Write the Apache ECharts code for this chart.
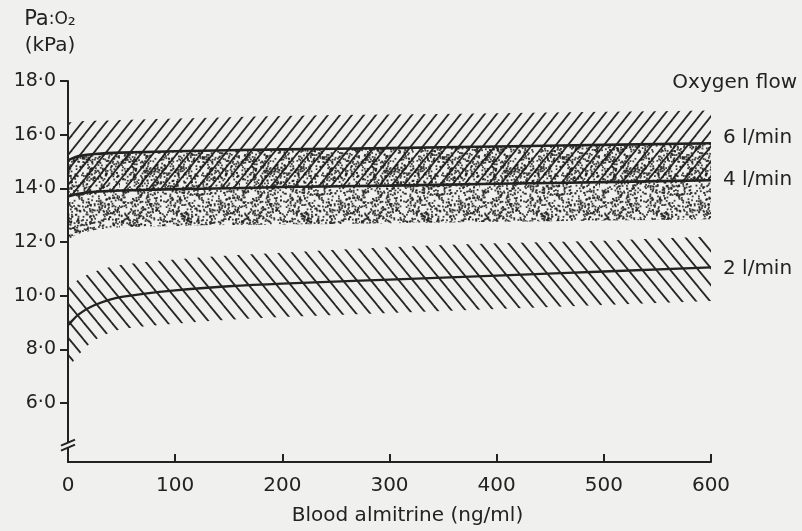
<!DOCTYPE html>
<html>
<head>
<meta charset="utf-8">
<script src="https://cdn.jsdelivr.net/npm/echarts@6/dist/echarts.min.js"></script>
<style>
html,body{margin:0;padding:0;background:#f0f0ee;}
#c{width:802px;height:531px;}
</style>
</head>
<body>
<div id="c"></div>
<script>
// ---- data ----
const almitrine = [0, 10, 25, 50, 100, 150, 200, 300, 400, 500, 600];
const flow6 = [15.05, 15.2, 15.28, 15.33, 15.38, 15.42, 15.45, 15.5, 15.56, 15.62, 15.68];
const flow4 = [13.7, 13.8, 13.87, 13.92, 13.97, 14.0, 14.05, 14.1, 14.17, 14.23, 14.3];
const flow2 = [8.9, 9.3, 9.65, 9.95, 10.2, 10.35, 10.45, 10.6, 10.75, 10.9, 11.05];
const band6Upper = [16.45, 16.5, 16.52, 16.55, 16.6, 16.65, 16.7, 16.75, 16.8, 16.85, 16.9];
const band6Lower = flow4;
const band4Upper = flow6;
const band4Lower = [12.1, 12.3, 12.45, 12.55, 12.6, 12.63, 12.65, 12.7, 12.75, 12.8, 12.85];
const band2Upper = [10.3, 10.6, 10.9, 11.15, 11.35, 11.5, 11.6, 11.8, 11.95, 12.05, 12.2];
const band2Lower = [7.3, 7.8, 8.35, 8.75, 8.95, 9.1, 9.2, 9.35, 9.5, 9.65, 9.8];
const yTicks = [6, 8, 10, 12, 14, 16, 18];
const flowLabels = ['6 l/min', '4 l/min', '2 l/min'];
const axisBreakAt = [0, 4.45];

const FONT = 'DejaVu Sans';
const INK = '#222';
const BG = '#f0f0ee';

// ---- fill textures ----
function hatch(w, h, dir) {
  const c = document.createElement('canvas');
  c.width = w; c.height = h;
  const g = c.getContext('2d');
  g.strokeStyle = '#262626';
  g.lineWidth = 1.8;
  for (let k = -1; k <= 1; k++) {
    g.beginPath();
    if (dir === '/') { g.moveTo(k * w - w * 0.2, h + h * 0.2); g.lineTo(k * w + w * 1.2, -h * 0.2); }
    else { g.moveTo(k * w - w * 0.2, -h * 0.2); g.lineTo(k * w + w * 1.2, h * 1.2); }
    g.stroke();
  }
  return { image: c, repeat: 'repeat' };
}
function stipple(size, n) {
  const c = document.createElement('canvas');
  c.width = size; c.height = size;
  const g = c.getContext('2d');
  g.fillStyle = 'rgba(30,30,30,0.85)';
  let a = 987654321;
  const next = () => {
    a |= 0; a = a + 0x6D2B79F5 | 0;
    let t = Math.imul(a ^ a >>> 15, 1 | a);
    t = t + Math.imul(t ^ t >>> 7, 61 | t) ^ t;
    return ((t ^ t >>> 14) >>> 0) / 4294967296;
  };
  for (let i = 0; i < n; i++) {
    g.fillRect(next() * size, next() * size, 1.8, 1.8);
  }
  return { image: c, repeat: 'repeat' };
}

// monotone cubic bezier commands through pixel points (drawing only)
function curveCmds(pts) {
  const n = pts.length;
  const d = [], m = [];
  for (let i = 0; i < n - 1; i++) d.push((pts[i + 1][1] - pts[i][1]) / (pts[i + 1][0] - pts[i][0]));
  m[0] = d[0]; m[n - 1] = d[n - 2];
  for (let i = 1; i < n - 1; i++) m[i] = (d[i - 1] * d[i] <= 0) ? 0 : (2 / (1 / d[i - 1] + 1 / d[i]));
  let s = '';
  for (let i = 0; i < n - 1; i++) {
    const [x0, y0] = pts[i], [x1, y1] = pts[i + 1];
    const h = (x1 - x0) / 3;
    s += ' C' + (x0 + h) + ',' + (y0 + m[i] * h) + ' ' + (x1 - h) + ',' + (y1 - m[i + 1] * h) + ' ' + x1 + ',' + y1;
  }
  return s;
}

function band(lower, upper, pattern) {
  return {
    type: 'custom', data: [[almitrine[0], lower[0]], [almitrine[almitrine.length - 1], upper[upper.length - 1]]],
    silent: true, z: 1, clip: true,
    renderItem: function (params, api) {
      if (params.dataIndex !== 0) return null;
      const up = almitrine.map((x, i) => api.coord([x, upper[i]]));
      const lo = almitrine.map((x, i) => api.coord([x, lower[i]])).reverse();
      const path = 'M' + up[0][0] + ',' + up[0][1] + curveCmds(up) +
        ' L' + lo[0][0] + ',' + lo[0][1] + curveCmds(lo) + ' Z';
      return { type: 'path', shape: { pathData: path }, style: { fill: pattern, stroke: null } };
    }
  };
}
function flowLine(vals, label, w, dy) {
  const last = almitrine.length - 1;
  return {
    type: 'custom', data: [[almitrine[last], vals[last]]], silent: true, z: 5, clip: false,
    renderItem: function (params, api) {
      const pts = almitrine.map((x, i) => api.coord([x, vals[i]]));
      const end = pts[pts.length - 1];
      return { type: 'group', children: [
        { type: 'path', shape: { pathData: 'M' + pts[0][0] + ',' + pts[0][1] + curveCmds(pts) },
          style: { fill: null, stroke: INK, lineWidth: w } },
        { type: 'text', x: end[0] + 12, y: end[1] + dy,
          style: { text: label, fill: INK, font: '20px "' + FONT + '"', align: 'left', verticalAlign: 'middle' } }
      ] };
    }
  };
}
const fmt = v => v.toFixed(1).replace('.', '\u00b7');

const chart = echarts.init(document.getElementById('c'), null, { renderer: 'canvas' });
chart.setOption({
  backgroundColor: BG,
  animation: false,
  title: { text: 'Oxygen flow', right: 0, top: 68,
    textStyle: { fontFamily: FONT, fontSize: 20, fontWeight: 'normal', color: INK } },
  grid: { left: 68, right: 91, top: 81, bottom: 68 },
  xAxis: {
    type: 'value', min: 0, max: 600, interval: 100,
    name: 'Blood almitrine (ng/ml)', nameLocation: 'middle', nameGap: 44,
    nameTextStyle: { fontFamily: FONT, fontSize: 20, color: INK, padding: [0, 0, 0, 36] },
    axisLine: { lineStyle: { color: INK, width: 2 } },
    axisTick: { inside: true, length: 8, lineStyle: { color: INK, width: 2 } },
    axisLabel: { fontFamily: FONT, fontSize: 20, color: INK, margin: 14 },
    splitLine: { show: false }
  },
  yAxis: {
    type: 'value', min: 3.8, max: 18,
    name: '{pa|Pa}{o|:O}{s|\u2082}\n{k|(kPa)}', nameLocation: 'end', nameGap: 22,
    nameTextStyle: { align: 'center', padding: [0, 36, 0, 0], fontFamily: FONT, color: INK,
      rich: {
        pa: { fontFamily: FONT, fontSize: 21, color: INK, lineHeight: 26 },
        o: { fontFamily: FONT, fontSize: 17, color: INK, lineHeight: 26 },
        s: { fontFamily: FONT, fontSize: 20, color: INK, lineHeight: 26 },
        k: { fontFamily: FONT, fontSize: 20, color: INK, lineHeight: 26 }
      } },
    axisLine: { show: true, lineStyle: { color: INK, width: 2 } },
    axisTick: { show: true, length: 8, customValues: yTicks, lineStyle: { color: INK, width: 2 } },
    axisLabel: { fontFamily: FONT, fontSize: 19, color: INK, margin: 12, customValues: yTicks,
      formatter: fmt },
    splitLine: { show: false }
  },
  series: [
    band(band6Lower, band6Upper, hatch(12, 15, '/')),
    band(band4Lower, band4Upper, stipple(120, 1900)),
    band(band2Lower, band2Upper, hatch(14, 17, '\\')),
    flowLine(flow6, flowLabels[0], 2.6, -5),
    flowLine(flow4, flowLabels[1], 2.6, 0),
    flowLine(flow2, flowLabels[2], 2.3, 1),
    { type: 'custom', data: [axisBreakAt], clip: false, z: 10, silent: true,
      renderItem: function (params, api) {
        const p = api.coord([api.value(0), api.value(1)]);
        const x = p[0], y = p[1];
        return { type: 'group', children: [
          { type: 'polygon', shape: { points: [[x - 7, y + 1], [x + 7, y - 5], [x + 7, y], [x - 7, y + 6]] },
            style: { fill: BG } },
          { type: 'line', shape: { x1: x - 7, y1: y + 1, x2: x + 7, y2: y - 5 }, style: { stroke: INK, lineWidth: 2 } },
          { type: 'line', shape: { x1: x - 7, y1: y + 6, x2: x + 7, y2: y }, style: { stroke: INK, lineWidth: 2 } }
        ] };
      } }
  ]
});
</script>
</body>
</html>
